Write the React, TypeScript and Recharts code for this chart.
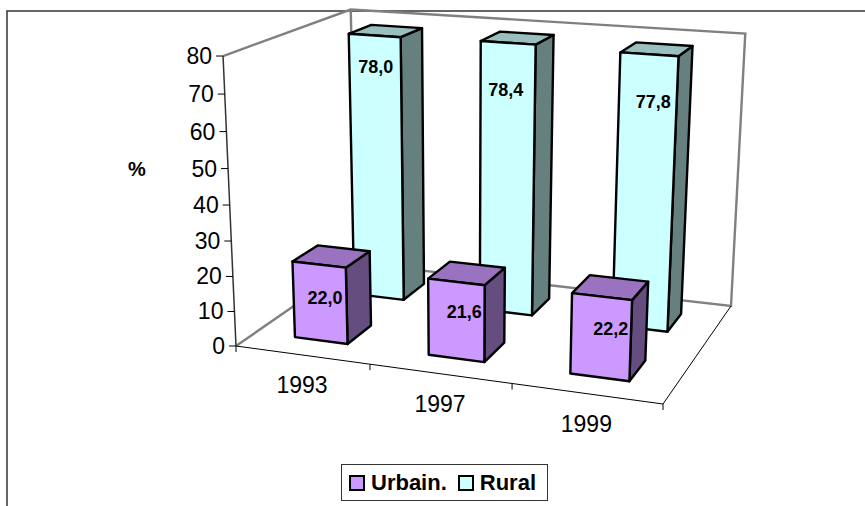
import { BarChart, Bar, XAxis, YAxis, Legend, LabelList, Customized } from 'recharts'

const years = ['1993', '1997', '1999']
const urbain = [22.0, 21.6, 22.2]
const rural = [78.0, 78.4, 77.8]
const yTicks = [0, 10, 20, 30, 40, 50, 60, 70, 80]

const data = years.map((year, i) => ({ year, urbain: urbain[i], rural: rural[i] }))

const W = 865
const H = 506
const PLOT = { left: 100, top: 50, width: 600, height: 400 }
const BAND = PLOT.width / years.length
const FONT = '"Liberation Sans", Arial, sans-serif'

// floor corners on screen: front-left, front-right, back-right, back-left
const F0 = [236, 346]
const F1 = [663, 404]
const F2 = [731, 306]
const F3 = [356, 263]
// how the 80 mark leans and shrinks away from the floor
const HEIGHT_X = -25
const HEIGHT_Y = -293
const HEIGHT_W = -0.054

const dx1 = F1[0] - F2[0]
const dx2 = F3[0] - F2[0]
const sx = F0[0] - F1[0] + F2[0] - F3[0]
const dy1 = F1[1] - F2[1]
const dy2 = F3[1] - F2[1]
const sy = F0[1] - F1[1] + F2[1] - F3[1]
const det = dx1 * dy2 - dx2 * dy1
const g = (sx * dy2 - dx2 * sy) / det
const h = (dx1 * sy - sx * dy1) / det

// u = across the floor, d = into the floor, t = up the wall, all 0..1
function project(u: number, d: number, t: number) {
  const w = 1 + g * u + h * d + HEIGHT_W * t
  const x = (F1[0] - F0[0] + g * F1[0]) * u + (F3[0] - F0[0] + h * F3[0]) * d + F0[0] + HEIGHT_X * t
  const y = (F1[1] - F0[1] + g * F1[1]) * u + (F3[1] - F0[1] + h * F3[1]) * d + F0[1] + HEIGHT_Y * t
  return [x / w, y / w]
}

const toU = (x: number) => (x - PLOT.left) / PLOT.width
const toT = (y: number) => (PLOT.top + PLOT.height - y) / PLOT.height
const pts = (list: number[][]) => list.map((p) => p.join(',')).join(' ')

const URBAIN_DEPTH = [0.15, 0.35]
const RURAL_DEPTH = [0.65, 0.85]

function Box(props: any) {
  const { x, y, width, depth, front, top, side } = props
  const u0 = toU(x)
  const u1 = toU(x + width)
  const t = toT(y)
  const [d0, d1] = depth
  const common = { stroke: '#000', strokeWidth: 2.4, strokeLinejoin: 'round' as const }
  return (
    <g>
      <polygon {...common} fill={side} points={pts([project(u1, d0, 0), project(u1, d1, 0), project(u1, d1, t), project(u1, d0, t)])} />
      <polygon {...common} fill={top} points={pts([project(u0, d0, t), project(u1, d0, t), project(u1, d1, t), project(u0, d1, t)])} />
      <polygon {...common} fill={front} points={pts([project(u0, d0, 0), project(u1, d0, 0), project(u1, d0, t), project(u0, d0, t)])} />
    </g>
  )
}

function ValueLabel(props: any) {
  const { x, y, width, height, value, index, depth, nudges } = props
  const u = toU(x + width / 2)
  const t = toT(y + height / 2)
  const [px, py] = project(u, depth, t)
  return (
    <text
      x={px + nudges[index][0]}
      y={py + nudges[index][1]}
      textAnchor="middle"
      dominantBaseline="central"
      fontFamily={FONT}
      fontWeight="bold"
      fontSize={18}
      fill="#000"
    >
      {Number(value).toFixed(1).replace('.', ',')}
    </text>
  )
}

function Walls() {
  const grey = { stroke: '#808080', strokeWidth: 2.4, fill: 'none' }
  const thin = { stroke: '#000', strokeWidth: 1, fill: 'none' }
  return (
    <g>
      <polyline points="7,506 7,11 865,11" stroke="#333" strokeWidth={1.5} fill="none" />
      <polyline {...grey} points={pts([project(0, 0, 0), project(0, 1, 0), project(1, 1, 0), project(1, 1, 1), project(0, 1, 1), project(0, 0, 1)])} />
      <polyline {...grey} points={pts([project(0, 1, 0), project(0, 1, 1)])} />
      <polyline {...thin} points={pts([project(0, 0, 0), project(1, 0, 0), project(1, 1, 0)])} />
      <polyline {...thin} stroke="#333" strokeWidth={1.5} points={pts([project(0, 0, 0), project(0, 0, 1)])} />
      <text x={137} y={169} textAnchor="middle" dominantBaseline="central" fontFamily={FONT} fontWeight="bold" fontSize={20}>
        %
      </text>
    </g>
  )
}

function YTick(props: any) {
  const { y, payload } = props
  const [px, py] = project(0, 0, toT(y))
  return (
    <g>
      <line x1={px - 7} y1={py} x2={px} y2={py} stroke="#000" />
      <text x={px - 11} y={py} textAnchor="end" dominantBaseline="central" fontFamily={FONT} fontSize={23} fill="#000">
        {payload.value}
      </text>
    </g>
  )
}

function XTick(props: any) {
  const { x, payload, index } = props
  const [lx, ly] = project(toU(x), 0, 0)
  const [ex, ey] = project(toU(x + BAND / 2), 0, 0)
  const [ox, oy] = project(0, 0, 0)
  return (
    <g>
      <line x1={ex} y1={ey} x2={ex} y2={ey + 6} stroke="#000" />
      {index === 0 && <line x1={ox} y1={oy} x2={ox} y2={oy + 6} stroke="#000" />}
      <text x={lx} y={ly + 30} textAnchor="middle" dominantBaseline="central" fontFamily={FONT} fontSize={23} fill="#000">
        {payload.value}
      </text>
    </g>
  )
}

function LegendBox(props: any) {
  const items = [...props.payload].reverse()
  return (
    <div
      style={{
        display: 'flex',
        alignItems: 'center',
        width: 207,
        height: 37,
        boxSizing: 'border-box',
        border: '1px solid #333',
        padding: '0 7px',
        background: '#fff',
        fontFamily: FONT,
        fontWeight: 'bold',
        fontSize: 22,
        color: '#000',
        whiteSpace: 'nowrap',
      }}
    >
      {items.map((item: any) => (
        <span key={item.value} style={{ display: 'flex', alignItems: 'center', marginRight: 11 }}>
          <span style={{ width: 12, height: 12, border: '2px solid #000', background: item.color, marginRight: 6 }} />
          {item.value}
        </span>
      ))}
    </div>
  )
}

export default function App() {
  return (
    <div style={{ position: 'absolute', left: 0, top: 0 }}>
      <BarChart
        width={W}
        height={H}
        data={data}
        barCategoryGap="30%"
        barGap={-0.4 * BAND}
        margin={{ left: PLOT.left - 1, top: PLOT.top, right: W - PLOT.left - PLOT.width, bottom: H - PLOT.top - PLOT.height - 1 }}
      >
        <Customized component={Walls} />
        <XAxis dataKey="year" height={1} axisLine={false} tickLine={false} tick={<XTick />} interval={0} />
        <YAxis width={1} domain={[0, 80]} ticks={yTicks} axisLine={false} tickLine={false} tick={<YTick />} interval={0} />
        <Legend
          verticalAlign="middle"
          content={<LegendBox />}
          wrapperStyle={{ top: 464, left: 341, width: 'auto' }}
        />
        <Bar
          dataKey="rural"
          name="Rural"
          fill="#CCFFFF"
          isAnimationActive={false}
          shape={(p: any) => <Box {...p} depth={RURAL_DEPTH} front="#CCFFFF" top="#99BFBF" side="#668080" />}
        >
          <LabelList
            dataKey="rural"
            content={(p: any) => <ValueLabel {...p} depth={RURAL_DEPTH[0]} nudges={[[-1, -102], [-1, -91], [9, -93]]} />}
          />
        </Bar>
        <Bar
          dataKey="urbain"
          name="Urbain."
          fill="#CC99FF"
          isAnimationActive={false}
          shape={(p: any) => <Box {...p} depth={URBAIN_DEPTH} front="#CC99FF" top="#9973BF" side="#664D80" />}
        >
          <LabelList
            dataKey="urbain"
            content={(p: any) => <ValueLabel {...p} depth={URBAIN_DEPTH[0]} nudges={[[5, -5], [8, -8], [10, -8]]} />}
          />
        </Bar>
      </BarChart>
    </div>
  )
}
